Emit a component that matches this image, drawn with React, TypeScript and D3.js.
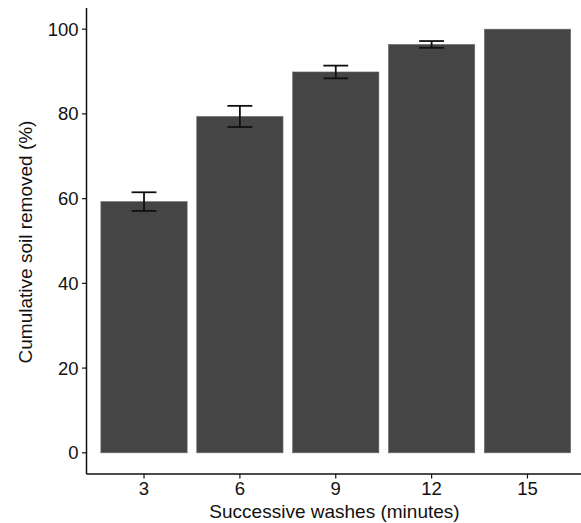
import React from "react";
import * as d3 from "d3";

const categories = ["3", "6", "9", "12", "15"];
const values = [59.3, 79.4, 89.9, 96.4, 100];
const errors = [2.2, 2.5, 1.5, 0.8, 0];
const yTicks = [0, 20, 40, 60, 80, 100];

const W = 581;
const H = 523;
const left = 86.5;
const right = 585;
const top = 8;
const bottom = 474;
const font = "'Liberation Sans', Arial, Helvetica, sans-serif";

export default function App() {
  const x = d3
    .scaleBand<string>()
    .domain(categories)
    .range([left, right])
    .paddingInner(0.1)
    .paddingOuter(0.15);
  const y = d3.scaleLinear().domain([-5, 105]).range([bottom, top]);
  const bw = x.bandwidth();
  const ebw = x.step() * 0.26;

  return (
    <svg
      width={W}
      height={H}
      style={{ position: "absolute", left: 0, top: 0, background: "#fff" }}
    >
      {categories.map((c, i) => (
        <rect
          key={c}
          x={x(c)!}
          y={y(values[i])}
          width={bw}
          height={y(0) - y(values[i])}
          fill="#454545"
          stroke="#6a6a6a"
          strokeWidth={0.6}
        />
      ))}
      {categories.map((c, i) => {
        if (!errors[i]) return null;
        const cx = x(c)! + bw / 2;
        const y1 = y(values[i] + errors[i]);
        const y2 = y(values[i] - errors[i]);
        return (
          <g key={"e" + c} stroke="#111" strokeWidth={1.8}>
            <line x1={cx} x2={cx} y1={y1} y2={y2} />
            <line x1={cx - ebw / 2} x2={cx + ebw / 2} y1={y1} y2={y1} />
            <line x1={cx - ebw / 2} x2={cx + ebw / 2} y1={y2} y2={y2} />
          </g>
        );
      })}
      {/* axes */}
      <line x1={left} x2={left} y1={top} y2={bottom} stroke="#111" strokeWidth={1.5} />
      <line x1={left} x2={W} y1={bottom} y2={bottom} stroke="#111" strokeWidth={1.5} />
      {yTicks.map((t) => (
        <g key={"y" + t}>
          <line x1={left - 4.5} x2={left} y1={y(t)} y2={y(t)} stroke="#111" strokeWidth={1.2} />
          <text
            x={left - 8}
            y={y(t)}
            textAnchor="end"
            dominantBaseline="central"
            fontFamily={font}
            fontSize={18.5}
            fill="#111"
          >
            {t}
          </text>
        </g>
      ))}
      {categories.map((c) => {
        const cx = x(c)! + bw / 2;
        return (
          <g key={"x" + c}>
            <line x1={cx} x2={cx} y1={bottom} y2={bottom + 4.5} stroke="#111" strokeWidth={1.2} />
            <text
              x={cx}
              y={495}
              textAnchor="middle"
              fontFamily={font}
              fontSize={18.5}
              fill="#111"
            >
              {c}
            </text>
          </g>
        );
      })}
      <text
        x={334.5}
        y={517.5}
        textAnchor="middle"
        fontFamily={font}
        fontSize={19}
        fill="#111"
      >
        Successive washes (minutes)
      </text>
      <text
        transform={`translate(32,242) rotate(-90)`}
        textAnchor="middle"
        fontFamily={font}
        fontSize={19}
        fill="#111"
      >
        Cumulative soil removed (%)
      </text>
    </svg>
  );
}
